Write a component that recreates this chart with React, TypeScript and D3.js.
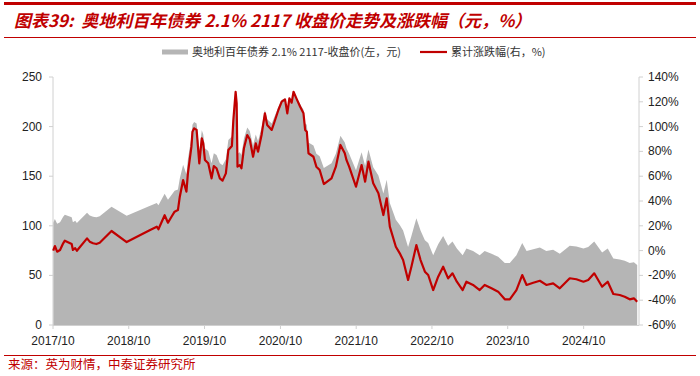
import React from "react";
import * as d3 from "d3";

const dates: string[] = [
  "2017-10-02","2017-10-10","2017-10-21","2017-11-04","2017-11-19","2017-11-27","2017-12-30","2018-01-05","2018-01-16","2018-01-24",
  "2018-03-14","2018-03-27","2018-04-12","2018-04-28","2018-05-14","2018-07-10","2018-09-21","2019-01-12","2019-02-13","2019-02-21",
  "2019-03-23","2019-04-08","2019-04-25","2019-05-10","2019-05-26","2019-06-04","2019-06-20","2019-07-06","2019-07-13","2019-07-30",
  "2019-08-04","2019-08-12","2019-08-24","2019-09-06","2019-09-18","2019-09-25","2019-10-03","2019-10-19","2019-11-04","2019-11-15",
  "2019-11-28","2019-12-14","2019-12-27","2020-01-12","2020-01-24","2020-02-10","2020-02-17","2020-02-28","2020-03-04","2020-03-08",
  "2020-03-19","2020-03-27","2020-04-08","2020-04-24","2020-05-06","2020-05-22","2020-06-04","2020-06-15","2020-07-02","2020-07-18",
  "2020-07-29","2020-08-20","2020-08-31","2020-09-21","2020-10-07","2020-10-23","2020-11-03","2020-11-13","2020-11-24","2020-12-03",
  "2020-12-19","2021-01-04","2021-01-20","2021-01-28","2021-02-05","2021-02-13","2021-03-09","2021-03-23","2021-04-08","2021-04-28",
  "2021-06-04","2021-06-25","2021-07-17","2021-08-07","2021-08-15","2021-08-28","2021-09-30","2021-10-27","2021-11-13","2021-11-29",
  "2021-12-22","2022-01-16","2022-02-09","2022-02-25","2022-03-12","2022-04-10","2022-04-29","2022-05-15","2022-06-08","2022-06-24",
  "2022-07-18","2022-08-07","2022-08-28","2022-09-13","2022-10-07","2022-10-31","2022-11-24","2022-12-18","2023-01-08","2023-01-29",
  "2023-02-26","2023-03-16","2023-04-17","2023-05-19","2023-06-12","2023-07-15","2023-08-16","2023-09-17","2023-10-11","2023-11-12",
  "2023-12-10","2023-12-31","2024-02-01","2024-03-04","2024-04-04","2024-05-07","2024-06-08","2024-07-02","2024-07-26","2024-08-27",
  "2024-09-30","2024-10-23","2024-11-21","2024-12-10","2024-12-29","2025-01-25","2025-02-21","2025-03-24","2025-04-17","2025-05-11",
  "2025-05-31","2025-06-16"
];

// 收盘价 (元)
const closePrice: number[] = [
  103.0,106.8,102.1,103.5,109.1,111.2,108.5,103.5,105.0,102.9,
  113.2,110.4,109.1,108.5,109.6,119.3,110.1,120.1,122.9,120.7,
  132.4,126.2,131.1,135.3,136.7,147.8,161.6,151.9,167.2,189.3,
  201.8,204.6,203.2,175.5,196.3,192.1,178.3,175.5,163.0,173.2,
  171.4,163.0,161.1,167.2,186.5,189.9,211.5,234.9,225.4,172.7,
  174.1,171.4,188.0,199.0,195.5,181.0,192.1,185.2,199.0,217.0,
  207.3,203.2,208.8,219.8,226.7,228.7,217.0,229.5,225.9,234.9,
  228.7,222.5,217.0,203.2,201.8,183.9,181.0,172.7,170.0,158.3,
  163.0,172.7,190.8,183.9,178.3,172.7,156.0,174.1,160.3,176.9,
  158.9,150.6,132.6,146.5,122.9,106.2,100.7,95.2,78.6,89.6,
  107.6,95.2,85.5,82.7,70.2,81.4,89.6,79.9,84.2,77.1,
  70.2,77.1,74.5,70.2,74.5,71.7,68.9,62.5,62.5,70.2,
  82.7,74.5,76.3,78.0,74.5,75.8,71.7,75.8,80.0,79.2,
  77.1,78.6,84.2,78.6,73.0,77.1,67.0,66.1,64.7,62.5,
  63.3,60.6
];

// 累计涨跌幅 (%)
const cumChange: number[] = [
  0.0,3.7,-0.9,0.5,5.9,8.0,5.3,0.5,1.9,-0.1,
  9.9,7.2,5.9,5.3,6.4,15.8,6.9,16.6,19.3,17.2,
  28.5,22.5,27.3,31.4,32.7,43.5,56.9,47.5,62.3,83.8,
  95.9,98.6,97.3,70.4,90.6,86.5,73.1,70.4,58.3,68.2,
  66.4,58.3,56.4,62.3,81.1,84.4,105.3,128.1,118.8,67.7,
  69.0,66.4,82.5,93.2,89.8,75.7,86.5,79.8,93.2,110.7,
  101.3,97.3,102.7,113.4,120.1,122.0,110.7,122.8,119.3,128.1,
  122.0,116.0,110.7,97.3,95.9,78.5,75.7,67.7,65.0,53.7,
  58.3,67.7,85.2,78.5,73.1,67.7,51.5,69.0,55.6,71.7,
  54.3,46.2,28.7,42.2,19.3,3.1,-2.2,-7.6,-23.7,-13.0,
  4.5,-7.6,-17.0,-19.7,-31.8,-21.0,-13.0,-22.4,-18.3,-25.1,
  -31.8,-25.1,-27.7,-31.8,-27.7,-30.4,-33.1,-39.3,-39.3,-31.8,
  -19.7,-27.7,-25.9,-24.3,-27.7,-26.4,-30.4,-26.4,-22.3,-23.1,
  -25.1,-23.7,-18.3,-23.7,-29.1,-25.1,-35.0,-35.8,-37.2,-39.3,
  -38.5,-41.2
];

const leftTicks: number[] = [0, 50, 100, 150, 200, 250];
const rightTicks: number[] = [-60, -40, -20, 0, 20, 40, 60, 80, 100, 120, 140];
const xTickYears: number[] = [2017, 2018, 2019, 2020, 2021, 2022, 2023, 2024];

const titleText = "图表39:\u00a0\u00a0奥地利百年债券 2.1% 2117 收盘价走势及涨跌幅（元，%）";
const legendPrice = "奥地利百年债券 2.1% 2117-收盘价(左，元)";
const legendChange = "累计涨跌幅(右，%)";
const sourceText = "来源：英为财情，中泰证券研究所";

const RED = "#c00000";
const GRAY = "#b5b5b5";
const AXIS = "#d0d0d0";

export default function App() {
  const W = 700, H = 376;
  const left = 53, right = 639, top = 77, bottom = 325;
  const parse = d3.timeParse("%Y-%m-%d");
  const data = dates.map((d, i) => ({ date: parse(d) as Date, price: closePrice[i], chg: cumChange[i] }));

  const x = d3.scaleTime()
    .domain([new Date(2017, 9, 1), new Date(2025, 9, 1)])
    .range([left, left + 8 * 75.8]);
  const yL = d3.scaleLinear().domain([0, 250]).range([bottom, top]);
  const yR = d3.scaleLinear().domain([-60, 140]).range([bottom, top]);

  const area = d3.area<any>()
    .x(d => x(d.date))
    .y0(yL(0))
    .y1(d => yL(d.price));
  const line = d3.line<any>()
    .x(d => x(d.date))
    .y(d => yR(d.chg));

  const numFont = "'Liberation Sans', Arial, sans-serif";
  const cjkFont = "'Noto Sans CJK SC', 'Liberation Sans', sans-serif";

  return (
    <svg width={W} height={H} style={{ position: "absolute", left: 0, top: 0, background: "#fff" }}>
      {/* header */}
      <rect x={4} y={2} width={692} height={3} fill={RED} />
      <text x={14} y={27} fill={RED} fontSize={17} fontWeight="bold" fontStyle="italic" fontFamily={cjkFont}>
        {titleText}
      </text>
      <line x1={4} x2={696} y1={37.5} y2={37.5} stroke={RED} strokeWidth={1} />

      {/* legend */}
      <rect x={162} y={49.5} width={26} height={5} fill={GRAY} />
      <text x={192} y={56} fontSize={11} fill="#333" fontFamily={cjkFont}>{legendPrice}</text>
      <line x1={420} x2={447} y1={52} y2={52} stroke={RED} strokeWidth={2.2} />
      <text x={451} y={56} fontSize={11} fill="#333" fontFamily={cjkFont}>{legendChange}</text>

      {/* area */}
      <path d={area(data) || ""} fill={GRAY} />

      {/* axes */}
      <line x1={left} x2={left} y1={top} y2={bottom} stroke={AXIS} />
      <line x1={right} x2={right} y1={top} y2={bottom} stroke={AXIS} />
      <line x1={left} x2={right} y1={bottom + 0.5} y2={bottom + 0.5} stroke={AXIS} />
      {leftTicks.map(t => (
        <g key={"l" + t}>
          <line x1={left - 4} x2={left} y1={yL(t)} y2={yL(t)} stroke={AXIS} />
          <text x={42} y={yL(t) + 4} textAnchor="end" fontSize={12} fill="#222" fontFamily={numFont}>{t}</text>
        </g>
      ))}
      {rightTicks.map(t => (
        <g key={"r" + t}>
          <line x1={right} x2={right + 4} y1={yR(t)} y2={yR(t)} stroke={AXIS} />
          <text x={648} y={yR(t) + 4} textAnchor="start" fontSize={12} fill="#222" fontFamily={numFont}>{t + "%"}</text>
        </g>
      ))}
      {xTickYears.map(yr => {
        const xx = x(new Date(yr, 9, 1));
        return (
          <g key={"x" + yr}>
            <line x1={xx} x2={xx} y1={bottom} y2={bottom + 4} stroke={AXIS} />
            <text x={xx} y={345} textAnchor="middle" fontSize={12} fill="#222" fontFamily={numFont}>{yr + "/10"}</text>
          </g>
        );
      })}

      {/* red line */}
      <path d={line(data) || ""} fill="none" stroke={RED} strokeWidth={2.2} strokeLinejoin="round" />

      {/* footer */}
      <line x1={4} x2={696} y1={355.5} y2={355.5} stroke={RED} strokeWidth={1} />
      <text x={8} y={369} fontSize={12.5} fill={RED} fontFamily={cjkFont}>{sourceText}</text>
    </svg>
  );
}
